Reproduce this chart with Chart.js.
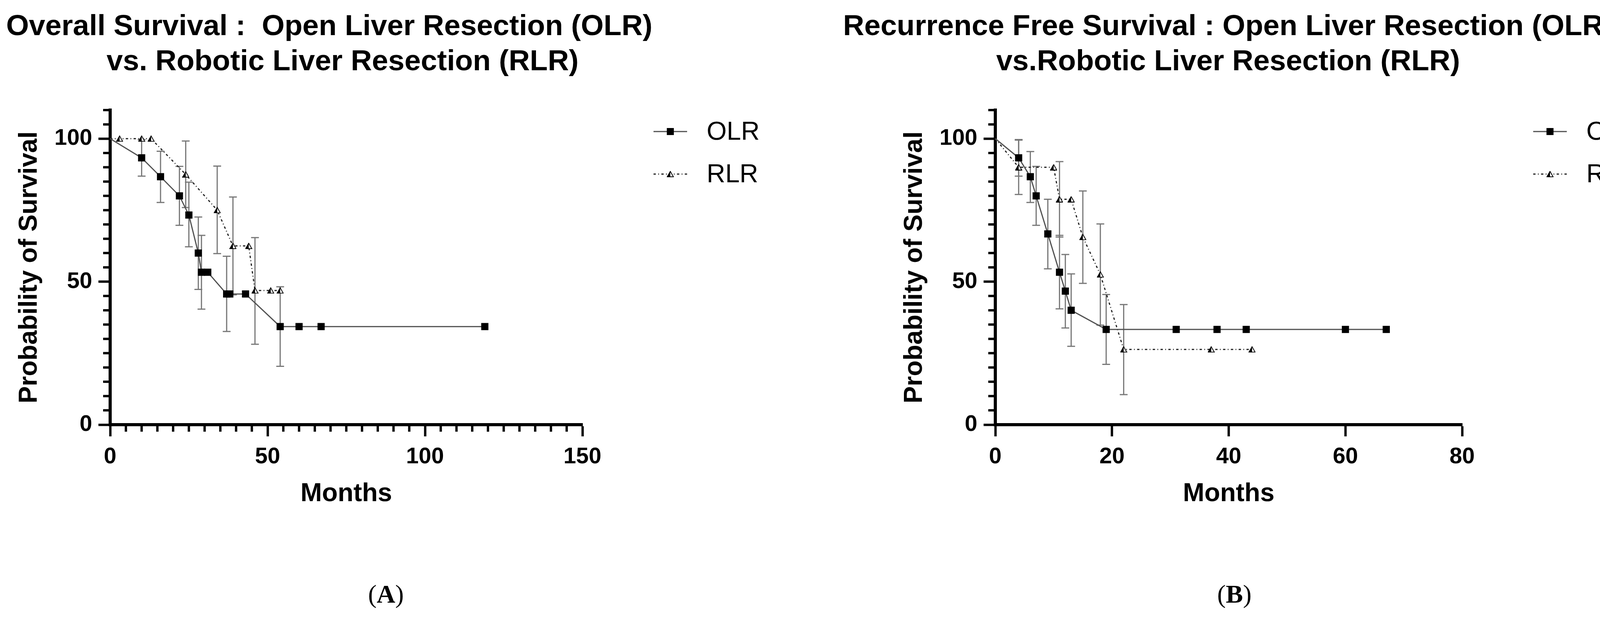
<!DOCTYPE html>
<html>
<head>
<meta charset="utf-8">
<script src="https://cdn.jsdelivr.net/npm/chart.js@4.4.0/dist/chart.umd.min.js"></script>
<style>
  html, body { margin: 0; padding: 0; background: #fff; }
  #page { position: relative; width: 4212px; height: 1591px; overflow: hidden; background: #fff; }
  canvas { position: absolute; top: 0; }
  #chartA { left: 0; }
  #chartB { left: 2106px; }
  .panel-label {
    position: absolute; top: 1484px; transform: translateX(-50%);
    font-family: "Liberation Serif", "DejaVu Serif", serif; font-size: 66px; color: #000;
  }
</style>
</head>
<body>
<div id="page">
  <canvas id="chartA" width="2106" height="1591"></canvas>
  <canvas id="chartB" width="2106" height="1591"></canvas>
  <div class="panel-label" style="left:988px">(<b>A</b>)</div>
  <div class="panel-label" style="left:3160px">(<b>B</b>)</div>
</div>
<script>
// --- DATA: panel A, overall survival (%) by month ---
const osOlrMonths   = [0, 10, 16, 22, 25, 28, 29, 31, 37, 38, 43, 54, 60, 67, 119];
const osOlrSurvival = [100, 93.3, 86.7, 80, 73.3, 60, 53.3, 53.3, 45.7, 45.7, 45.7, 34.3, 34.3, 34.3, 34.3];
const osOlrLower    = [null, 86.9, 77.7, 69.7, 62.2, 47.3, 40.4, null, 32.6, null, null, 20.4, null, null, null];
const osOlrUpper    = [null, 99.7, 95.6, 90.3, 84.8, 72.6, 66.2, null, 58.9, null, null, 48.2, null, null, null];

const osRlrMonths   = [0, 3, 10, 13, 24, 34, 39, 44, 46, 51, 54];
const osRlrSurvival = [100, 100, 100, 100, 87.5, 75, 62.5, 62.5, 46.9, 46.9, 46.9];
const osRlrLower    = [null, null, null, null, 75.9, 59.8, 45.4, null, 28.1, null, null];
const osRlrUpper    = [null, null, null, null, 99.2, 90.4, 79.6, null, 65.4, null, null];

// --- DATA: panel B, recurrence free survival (%) by month ---
const rfsOlrMonths   = [0, 4, 6, 7, 9, 11, 12, 13, 19, 31, 38, 43, 60, 67];
const rfsOlrSurvival = [100, 93.3, 86.7, 80, 66.7, 53.3, 46.7, 40, 33.3, 33.3, 33.3, 33.3, 33.3, 33.3];
const rfsOlrLower    = [null, 86.9, 77.7, 69.7, 54.5, 40.5, 33.8, 27.4, 21.1, null, null, null, null, null];
const rfsOlrUpper    = [null, 99.7, 95.5, 90.3, 78.8, 66.2, 59.5, 52.7, 45.5, null, null, null, null, null];

const rfsRlrMonths   = [0, 4, 10, 11, 13, 15, 18, 22, 37, 44];
const rfsRlrSurvival = [100, 90, 90, 78.8, 78.8, 65.6, 52.5, 26.3, 26.3, 26.3];
const rfsRlrLower    = [null, 80.5, null, 65.6, null, 49.4, 34.8, 10.5, null, null];
const rfsRlrUpper    = [null, 99.5, null, 92.0, null, 81.7, 70.2, 42.0, null, null];

// --- AXES ---
const yTickValues = [0, 50, 100];
const osXTicks = [0, 50, 100, 150];
const rfsXTicks = [0, 20, 40, 60, 80];
const seriesNames = ['OLR', 'RLR'];

const osTitle = ['Overall Survival :  Open Liver Resection (OLR)', 'vs. Robotic Liver Resection (RLR)'];
const rfsTitle = ['Recurrence Free Survival : Open Liver Resection (OLR)', 'vs.Robotic Liver Resection (RLR)'];

const SANS = '"Liberation Sans", Arial, Helvetica, sans-serif';

// half-filled triangle used for the RLR markers
const makeHalfTriangle = (w, h) => {
    const c = document.createElement('canvas');
    c.width = w; c.height = h;
    const g = c.getContext('2d');
    g.beginPath(); g.moveTo(w / 2, 1); g.lineTo(w - 1, h - 1); g.lineTo(1, h - 1); g.closePath();
    g.fillStyle = '#fff'; g.fill();
    g.lineWidth = 2; g.strokeStyle = '#000'; g.stroke();
    g.beginPath(); g.moveTo(w / 2, 1); g.lineTo(w / 2, h - 1); g.lineTo(1, h - 1); g.closePath();
    g.fillStyle = '#000'; g.fill();
    return c;
};
const triangleIcon = makeHalfTriangle(18, 16);

const toPoints = (xs, ys) => xs.map((x, i) => ({ x, y: ys[i] }));

const olrDataset = (months, surv, lower, upper) => ({
    label: seriesNames[0],
    data: toPoints(months, surv),
    errLow: lower, errHigh: upper,
    borderColor: '#505050', borderWidth: 3,
    pointStyle: 'rect', pointBackgroundColor: '#000', pointBorderWidth: 0,
    pointRadius: c => (c.dataIndex === 0 ? 0 : 13),
    tension: 0, clip: false
});
const rlrDataset = (months, surv, lower, upper) => ({
    label: seriesNames[1],
    data: toPoints(months, surv),
    errLow: lower, errHigh: upper,
    borderColor: '#222', borderWidth: 3, borderDash: [6, 6, 2, 6],
    pointStyle: triangleIcon,
    pointRadius: c => (c.dataIndex === 0 ? 0 : 9),
    tension: 0, clip: false
});

// --- PLUGINS ---
const errorBars = {
    id: 'errorBars',
    beforeDatasetsDraw(chart) {
        const { ctx, scales: { x, y } } = chart;
        ctx.save();
        ctx.strokeStyle = '#777';
        ctx.lineWidth = 3;
        chart.data.datasets.forEach(ds => {
            ds.data.forEach((p, i) => {
                const lo = ds.errLow[i], hi = ds.errHigh[i];
                if (lo == null || hi == null) return;
                const px = x.getPixelForValue(p.x);
                const yl = y.getPixelForValue(lo), yh = y.getPixelForValue(hi);
                ctx.beginPath();
                ctx.moveTo(px, yl); ctx.lineTo(px, yh);
                ctx.moveTo(px - 10, yl); ctx.lineTo(px + 10, yl);
                ctx.moveTo(px - 10, yh); ctx.lineTo(px + 10, yh);
                ctx.stroke();
            });
        });
        ctx.restore();
    }
};

const minorTicks = {
    id: 'minorTicks',
    afterDraw(chart, args, opts) {
        const { ctx, chartArea, scales: { x, y } } = chart;
        ctx.save();
        ctx.strokeStyle = '#000';
        ctx.lineWidth = 6;
        ctx.beginPath();
        for (let v = y.min; v <= y.max + 0.01; v += opts.yStep) {
            if (yTickValues.includes(v)) continue;
            const py = y.getPixelForValue(v);
            ctx.moveTo(chartArea.left - 4, py); ctx.lineTo(chartArea.left - 18, py);
        }
        if (opts.xStep) {
            for (let v = x.min; v <= x.max + 0.01; v += opts.xStep) {
                if (opts.xMajor.includes(v)) continue;
                const px = x.getPixelForValue(v);
                ctx.moveTo(px, chartArea.bottom + 4); ctx.lineTo(px, chartArea.bottom + 18);
            }
        }
        ctx.stroke();
        ctx.restore();
    }
};

const panelTitle = {
    id: 'panelTitle',
    afterDraw(chart, args, opts) {
        const { ctx } = chart;
        ctx.save();
        ctx.fillStyle = '#000';
        ctx.font = 'bold 75px ' + SANS;
        ctx.textAlign = 'center';
        ctx.textBaseline = 'alphabetic';
        opts.lines.forEach((t, i) => ctx.fillText(t, opts.centers[i], opts.baselines[i]));
        ctx.restore();
    }
};

const kmLegend = {
    id: 'kmLegend',
    afterDraw(chart) {
        const { ctx, chartArea } = chart;
        const x0 = chartArea.right + 182, x1 = chartArea.right + 268, xm = chartArea.right + 225;
        const rows = [chartArea.top + 55, chartArea.top + 164];
        ctx.save();
        chart.data.datasets.forEach((ds, i) => {
            const yy = rows[i];
            ctx.strokeStyle = ds.borderColor;
            ctx.lineWidth = ds.borderWidth;
            ctx.setLineDash(ds.borderDash || []);
            ctx.beginPath(); ctx.moveTo(x0, yy); ctx.lineTo(x1, yy); ctx.stroke();
            ctx.setLineDash([]);
            if (ds.pointStyle === 'rect') {
                ctx.fillStyle = '#000';
                ctx.fillRect(xm - 9, yy - 9, 18, 18);
            } else {
                ctx.drawImage(ds.pointStyle, xm - ds.pointStyle.width / 2, yy - ds.pointStyle.height / 2);
            }
            ctx.fillStyle = '#000';
            ctx.font = '66px ' + SANS;
            ctx.textAlign = 'left';
            ctx.textBaseline = 'middle';
            ctx.fillText(ds.label, chartArea.right + 318, yy + 3);
        });
        ctx.restore();
    }
};

// --- CHART FACTORY ---
const makeKmChart = (canvasId, cfg) => new Chart(document.getElementById(canvasId), {
    type: 'line',
    data: { datasets: cfg.datasets },
    plugins: [errorBars, minorTicks, panelTitle, kmLegend],
    options: {
        responsive: false,
        animation: false,
        events: [],
        layout: { padding: { top: 282, left: cfg.padLeft, right: cfg.padRight, bottom: 0 } },
        plugins: {
            legend: { display: false },
            tooltip: { enabled: false },
            title: { display: false },
            minorTicks: { yStep: 5, xStep: cfg.xMinor, xMajor: cfg.xTicks },
            panelTitle: { lines: cfg.title, centers: cfg.titleCenters, baselines: [90, 180] }
        },
        scales: {
            x: {
                type: 'linear', min: 0, max: cfg.xMax,
                afterFit: s => { s.height = 503; },
                afterBuildTicks: s => { s.ticks = cfg.xTicks.map(v => ({ value: v })); },
                border: { display: true, color: '#000', width: 8 },
                grid: { drawOnChartArea: false, drawTicks: true, tickLength: 30, tickWidth: 6, tickColor: '#000' },
                ticks: { color: '#000', padding: 18, maxRotation: 0, font: { family: SANS, size: 58, weight: 'bold' } },
                title: { display: true, text: 'Months', color: '#000', padding: { top: 0, bottom: 286 },
                         font: { family: SANS, size: 66, weight: 'bold' } }
            },
            y: {
                type: 'linear', min: 0, max: 110,
                afterFit: s => { s.width = 282; },
                afterBuildTicks: s => { s.ticks = yTickValues.map(v => ({ value: v })); },
                border: { display: true, color: '#000', width: 8 },
                grid: { drawOnChartArea: false, drawTicks: true, tickLength: 30, tickWidth: 6, tickColor: '#000' },
                ticks: { color: '#000', padding: 16, font: { family: SANS, size: 58, weight: 'bold' } },
                title: { display: true, text: 'Probability of Survival', color: '#000', padding: { top: 36, bottom: 0 },
                         font: { family: SANS, size: 66, weight: 'bold' } }
            }
        }
    }
});

makeKmChart('chartA', {
    title: osTitle, titleCenters: [843, 877],
    xMax: 150, xTicks: osXTicks, xMinor: 5,
    padLeft: 0, padRight: 615,
    datasets: [
        olrDataset(osOlrMonths, osOlrSurvival, osOlrLower, osOlrUpper),
        rlrDataset(osRlrMonths, osRlrSurvival, osRlrLower, osRlrUpper)
    ]
});

makeKmChart('chartB', {
    title: rfsTitle, titleCenters: [1038, 1038],
    xMax: 80, xTicks: rfsXTicks, xMinor: null,
    padLeft: 160, padRight: 469,
    datasets: [
        olrDataset(rfsOlrMonths, rfsOlrSurvival, rfsOlrLower, rfsOlrUpper),
        rlrDataset(rfsRlrMonths, rfsRlrSurvival, rfsRlrLower, rfsRlrUpper)
    ]
});
</script>
</body>
</html>
